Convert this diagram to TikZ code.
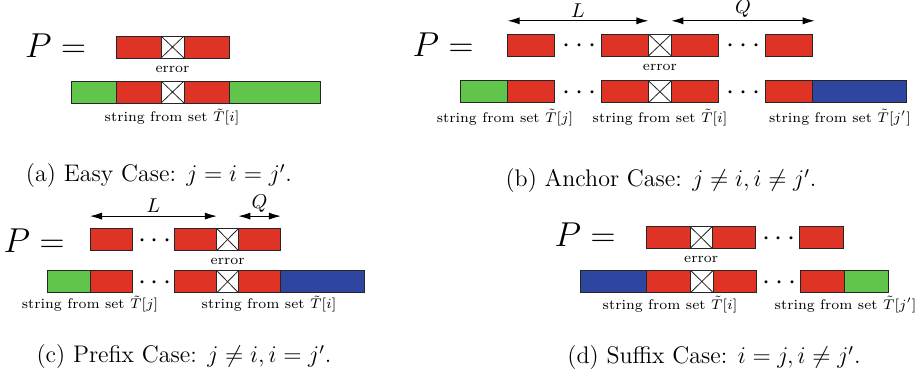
\documentclass[tikz,border=0pt]{standalone}
\usetikzlibrary{positioning, arrows.meta}

\definecolor{segred}{RGB}{223,51,38}
\definecolor{seggreen}{RGB}{98,197,75}
\definecolor{segblue}{RGB}{47,70,160}

\begin{document}
\begin{tikzpicture}[
    x=0.5pt, y=-0.5pt,
    seg/.style={draw=black!85, line width=0.5pt, minimum height=11pt, inner sep=0pt, outer sep=0pt},
    redseg/.style={seg, fill=segred, minimum width=#1},
    redseg/.default=23pt,
    greenseg/.style={seg, fill=seggreen, minimum width=#1},
    greenseg/.default=23pt,
    blueseg/.style={seg, fill=segblue, minimum width=#1},
    blueseg/.default=47pt,
    errseg/.style={seg, fill=white, minimum width=#1,
        path picture={\draw[line width=0.4pt]
            (path picture bounding box.north west) -- (path picture bounding box.south east)
            (path picture bounding box.south west) -- (path picture bounding box.north east);}},
    errseg/.default=11.5pt,
    dots/.style={minimum width=#1, inner sep=0pt, outer sep=0pt, text height=7.5pt, text depth=0pt,
        font=\fontsize{15}{18}\selectfont},
    lbl/.style={font=\fontsize{7}{8.5}\selectfont, inner sep=1pt},
    peq/.style={font=\fontsize{16}{19}\selectfont, inner sep=0pt},
    dimline/.style={{Latex[length=6pt,width=3.6pt]}-{Latex[length=6pt,width=3.6pt]}, line width=0.5pt},
    caption/.style={font=\fontsize{12}{14}\selectfont, inner sep=0pt},
]
\useasboundingbox (0,0) rectangle (917,382);

% (a) easy case
\node[peq] (aP) at (55.5,46) {$P=$};
\node[redseg=22.5pt, anchor=west] (a1) at (116,47) {};
\node[errseg, right=0pt of a1] (ax) {};
\node[redseg=22.5pt, right=0pt of ax] (a2) {};
\node[lbl, below=2.8pt of ax] (aerr) {error};

\node[greenseg=22.5pt, anchor=west] (ag1) at (71,92) {};
\node[redseg=22.5pt, right=0pt of ag1] (ab1) {};
\node[errseg, right=0pt of ab1] (abx) {};
\node[redseg=22.5pt, right=0pt of abx] (ab2) {};
\node[greenseg=45.5pt, right=0pt of ab2] (ag2) {};
\node[lbl] (alab) at (172,117) {string from set $\tilde{T}[i]$};

\node[caption] (acap) at (159,176) {(a) Easy Case: $j = i = j'$.};

% (b) anchor case
\node[peq] (bP) at (443,45) {$P=$};
\node[redseg=23.5pt, anchor=west] (b1) at (507.7,45) {};
\node[dots=23.35pt, right=0pt of b1] (bd1) {$\mskip2mu\cdots$};
\node[redseg=23.5pt, right=0pt of bd1] (b2) {};
\node[errseg, right=0pt of b2] (bx) {};
\node[redseg=23.5pt, right=0pt of bx] (b3) {};
\node[dots=23.35pt, right=0pt of b3] (bd2) {$\mskip2mu\cdots$};
\node[redseg=23.5pt, right=0pt of bd2] (b4) {};
\node[lbl, below=2.8pt of bx] (berr) {error};

\node[greenseg=23.5pt, anchor=west] (bg) at (460.7,91.7) {};
\node[redseg=23.5pt, right=0pt of bg] (bb1) {};
\node[dots=23.35pt, right=0pt of bb1] (bbd1) {$\mskip2mu\cdots$};
\node[redseg=23.5pt, right=0pt of bbd1] (bb2) {};
\node[errseg, right=0pt of bb2] (bbx) {};
\node[redseg=23.5pt, right=0pt of bbx] (bb3) {};
\node[dots=23.35pt, right=0pt of bb3] (bbd2) {$\mskip2mu\cdots$};
\node[redseg=23.5pt, right=0pt of bbd2] (bb4) {};
\node[blueseg=47pt, right=0pt of bb4] (bbl) {};

\node[lbl] (blab1) at (505,117.7) {string from set $\tilde{T}[j]$};
\node[lbl] (blab2) at (660,117.7) {string from set $\tilde{T}[i]$};
\node[lbl] (blab3) at (840,117.7) {string from set $\tilde{T}[j']$};

\draw[dimline] ([yshift=6.6pt]b1.north west) -- node[above, inner sep=1.5pt] (bL) {$L$} ([yshift=6.6pt]b2.north east);
\draw[dimline] ([yshift=6.6pt]bx.north east) -- node[above, inner sep=1.5pt] (bQ) {$Q$} ([yshift=6.6pt,xshift=1.3pt]b4.north east);

\node[caption] (bcap) at (661,181) {(b) Anchor Case: $j \neq i, i \neq j'$.};

% (c) prefix case
\node[peq] (cP) at (34,241) {$P=$};
\node[redseg=21.2pt, anchor=west] (c1) at (90,239.5) {};
\node[dots=21pt, right=0pt of c1] (cd) {$\mskip2mu\cdots$};
\node[redseg=21.2pt, right=0pt of cd] (c2) {};
\node[errseg=10.8pt, right=0pt of c2] (cx) {};
\node[redseg=21.2pt, right=0pt of cx] (c3) {};
\node[lbl, below=2.8pt of cx] (cerr) {error};

\node[greenseg=21.35pt, anchor=west] (cg) at (47.3,281.7) {};
\node[redseg=21.2pt, right=0pt of cg] (cb1) {};
\node[dots=21pt, right=0pt of cb1] (cbd) {$\mskip2mu\cdots$};
\node[redseg=21.2pt, right=0pt of cbd] (cb2) {};
\node[errseg=10.8pt, right=0pt of cb2] (cbx) {};
\node[redseg=21.2pt, right=0pt of cbx] (cb3) {};
\node[blueseg=41.7pt, right=0pt of cb3] (cbl) {};

\node[lbl] (clab1) at (90,304) {string from set $\tilde{T}[j]$};
\node[lbl] (clab2) at (269,304) {string from set $\tilde{T}[i]$};

\draw[dimline] ([yshift=6.2pt]c1.north west) -- node[above, inner sep=1.5pt] (cL) {$L$} ([yshift=6.2pt]c2.north east);
\draw[dimline] ([yshift=6.2pt]cx.north east) -- node[above, inner sep=1.5pt] (cQ) {$Q$} ([yshift=6.2pt]c3.north east);

\node[caption] (ccap) at (184,357) {(c) Prefix Case: $j \neq i, i = j'$.};

% (d) suffix case
\node[peq] (dP) at (585,235) {$P=$};
\node[redseg=22pt, anchor=west] (d1) at (646,237.5) {};
\node[errseg=11.15pt, right=0pt of d1] (dx) {};
\node[redseg=21.5pt, right=0pt of dx] (d2) {};
\node[dots=22pt, right=0pt of d2] (dd) {$\mskip2mu\cdots$};
\node[redseg=22.25pt, right=0pt of dd] (d3) {};
\node[lbl, below=2.8pt of dx] (derr) {error};

\node[blueseg=33pt, anchor=west] (dbl) at (580.7,281.5) {};
\node[redseg=22pt, right=0pt of dbl] (db1) {};
\node[errseg=11.15pt, right=0pt of db1] (dbx) {};
\node[redseg=21.5pt, right=0pt of dbx] (db2) {};
\node[dots=22pt, right=0pt of db2] (dbd) {$\mskip2mu\cdots$};
\node[redseg=22.25pt, right=0pt of dbd] (db3) {};
\node[greenseg=22.15pt, right=0pt of db3] (dg) {};

\node[lbl] (dlab1) at (670,304.3) {string from set $\tilde{T}[i]$};
\node[lbl] (dlab2) at (845.6,304.3) {string from set $\tilde{T}[j']$};

\node[caption] (dcap) at (714,358) {(d) Suffix Case: $i = j, i \neq j'$.};
\end{tikzpicture}
\end{document}
